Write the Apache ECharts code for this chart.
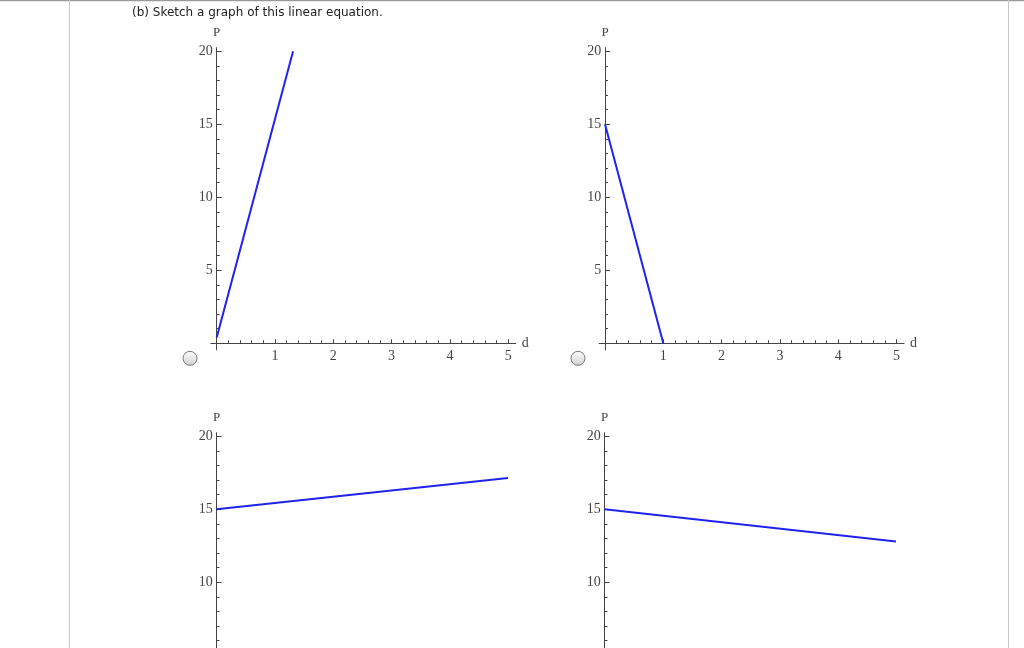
<!DOCTYPE html>
<html>
<head>
    <meta charset="utf-8" />
    <title>Sketch a graph of this linear equation</title>
    <script src="https://cdn.jsdelivr.net/npm/echarts@6/dist/echarts.min.js"></script>
    <style>
        html, body { margin: 0; padding: 0; background: #fff; }
    </style>
</head>
<body>
    <div style="width:1024px;height:648px;" id="echart"></div>
</body>
</html>
<script>
    // 四个选项的直线 (d, P)
    var lineA = [[0, 0.4], [1.31, 20]];
    var lineB = [[0, 15], [1, 0]];
    var lineC = [[0, 15], [5, 17.15]];
    var lineD = [[0, 15], [5, 12.8]];

    // 刻度
    var xMajor = [1, 2, 3, 4, 5];
    var xMinor = [0.2, 0.4, 0.6, 0.8, 1.2, 1.4, 1.6, 1.8, 2.2, 2.4, 2.6, 2.8,
                  3.2, 3.4, 3.6, 3.8, 4.2, 4.4, 4.6, 4.8];
    var yMajor = [5, 10, 15, 20];
    var yMinor = [1, 2, 3, 4, 6, 7, 8, 9, 11, 12, 13, 14, 16, 17, 18, 19];

    var titleText = '(b) Sketch a graph of this linear equation.';

    var myChart = echarts.init(document.getElementById('echart'));

    // 每个小图的原点像素位置
    var panels = [
        { data: lineA, x0: 216.7, y0: 343.3 },
        { data: lineB, x0: 605, y0: 343.3 },
        { data: lineC, x0: 216.5, y0: 728.3 },
        { data: lineD, x0: 604.5, y0: 728.3 }
    ];
    var xMin = -0.1, xMax = 5.13, yMin = -0.45, yMax = 20.25;
    var xScale = 58.3, yScale = 14.6;

    var labelStyle = { fontFamily: 'Liberation Serif', fontSize: 14, color: '#444' };
    var lineColor = '#444';

    var grid = [], xAxis = [], yAxis = [], series = [];
    panels.forEach(function (p, i) {
        grid.push({
            left: p.x0 + xMin * xScale,
            top: p.y0 - yMax * yScale,
            width: (xMax - xMin) * xScale,
            height: (yMax - yMin) * yScale,
            containLabel: false,
            outerBoundsMode: 'none'
        });
        // 主刻度轴
        xAxis.push({
            type: 'value', gridIndex: i, min: xMin, max: xMax, position: 'bottom',
            name: 'd', nameLocation: 'end', nameGap: 6,
            nameTextStyle: { fontFamily: 'Liberation Serif', fontSize: 14, color: '#444', verticalAlign: 'middle' },
            axisLine: { show: true, onZero: true, lineStyle: { color: lineColor, width: 1 } },
            axisTick: { show: true, inside: true, length: 4, customValues: xMajor, lineStyle: { color: lineColor } },
            axisLabel: Object.assign({ show: true, margin: -1, customValues: xMajor }, labelStyle),
            splitLine: { show: false }
        });
        // 次刻度轴
        xAxis.push({
            type: 'value', gridIndex: i, min: xMin, max: xMax, position: 'bottom',
            axisLine: { show: false, onZero: true },
            axisTick: { show: true, inside: true, length: 3, customValues: xMinor, lineStyle: { color: lineColor } },
            axisLabel: { show: false },
            splitLine: { show: false }
        });
        yAxis.push({
            type: 'value', gridIndex: i, min: yMin, max: yMax, position: 'left',
            name: 'P', nameLocation: 'end', nameGap: 9,
            nameTextStyle: { fontFamily: 'Liberation Serif', fontSize: 13, color: '#444', align: 'center' },
            axisLine: { show: true, onZero: true, lineStyle: { color: lineColor, width: 1 } },
            axisTick: { show: true, inside: true, length: 5, customValues: yMajor, lineStyle: { color: lineColor } },
            axisLabel: Object.assign({ show: true, margin: -2, customValues: yMajor }, labelStyle),
            splitLine: { show: false }
        });
        yAxis.push({
            type: 'value', gridIndex: i, min: yMin, max: yMax, position: 'left',
            axisLine: { show: false, onZero: true },
            axisTick: { show: true, inside: true, length: 3, customValues: yMinor, lineStyle: { color: lineColor } },
            axisLabel: { show: false },
            splitLine: { show: false }
        });
        series.push({
            type: 'line',
            xAxisIndex: i * 2,
            yAxisIndex: i * 2,
            data: p.data,
            symbol: 'none',
            silent: true,
            animation: false,
            lineStyle: { color: '#2222ee', width: 2 }
        });
    });

    var radioFill = new echarts.graphic.LinearGradient(0, 0, 0, 1, [
        { offset: 0, color: '#ffffff' },
        { offset: 1, color: '#d0d0d0' }
    ]);

    var option = {
        animation: false,
        backgroundColor: '#fff',
        grid: grid,
        xAxis: xAxis,
        yAxis: yAxis,
        series: series,
        graphic: [
            // 页面边框
            { type: 'line', shape: { x1: 0, y1: 0.5, x2: 1024, y2: 0.5 }, style: { stroke: '#9a9a9a', lineWidth: 1.5 } },
            { type: 'line', shape: { x1: 69.5, y1: 0, x2: 69.5, y2: 648 }, style: { stroke: '#c8c8c8', lineWidth: 1 } },
            { type: 'line', shape: { x1: 1008.5, y1: 0, x2: 1008.5, y2: 648 }, style: { stroke: '#c8c8c8', lineWidth: 1 } },
            {
                type: 'text', left: 132, top: 7,
                style: { text: titleText, fontFamily: 'DejaVu Sans', fontSize: 12, fill: '#222' }
            },
            // 单选按钮
            { type: 'circle', shape: { cx: 190, cy: 358.3, r: 7 }, style: { fill: radioFill, stroke: '#777', lineWidth: 1 } },
            { type: 'circle', shape: { cx: 578, cy: 358.3, r: 7 }, style: { fill: radioFill, stroke: '#777', lineWidth: 1 } }
        ]
    };
    myChart.setOption(option);
</script>
